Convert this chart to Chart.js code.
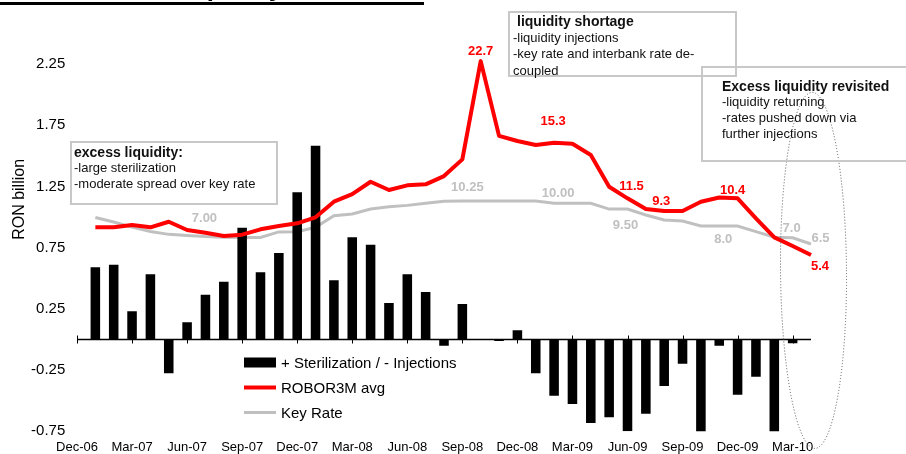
<!DOCTYPE html>
<html>
<head>
<meta charset="utf-8">
<script src="https://cdn.jsdelivr.net/npm/chart.js@4.4.1/dist/chart.umd.min.js"></script>
<style>
  html, body { margin: 0; padding: 0; background: #fff; }
  #wrap { position: relative; width: 906px; height: 454px; overflow: hidden; font-family: "Liberation Sans", Arial, sans-serif; }
  #c { position: absolute; left: 0; top: 0; }
  .title { position: absolute; left: 0; top: -22px; width: 424px; height: 24px; border-bottom: 3px solid #000;
           font: bold 26px "Liberation Sans", Arial, sans-serif; line-height: 24px; white-space: nowrap; color: #000; }
  .title span { position: relative; top: -3px; }
  .box { position: absolute; box-sizing: border-box; border: 2px solid #c8c8c8; font-size: 13px; line-height: 16px; color: #111; }
  .box .h { font-weight: bold; font-size: 14px; }
</style>
</head>
<body>
<div id="wrap">
  <canvas id="c" width="906" height="454"></canvas>
  <div class="title"><span>ROBOR3M vs. liquidity conditions</span></div>
  <div class="box" style="left:70px; top:141px; width:208px; height:64px; padding:1px 0 0 2px;">
    <div class="h">excess liquidity:</div>
    <div>-large sterilization</div>
    <div>-moderate spread over key rate</div>
  </div>
  <div class="box" style="left:508px; top:11px; width:229px; height:66px; padding:0 0 0 3px; line-height:16.5px;">
    <div class="h" style="margin-left:4px;">liquidity shortage</div>
    <div>-liquidity injections</div>
    <div>-key rate and interbank rate de-</div>
    <div>coupled</div>
  </div>
  <div class="box" style="left:701px; top:66px; width:240px; height:96px; padding:10px 0 0 19px;">
    <div class="h">Excess liquidity revisited</div>
    <div>-liquidity returning</div>
    <div>-rates pushed down via</div>
    <div>further injections</div>
  </div>
</div>
<script>
// ---------------- data ----------------
const CATEGORIES = [
  "Dec-06",
  "Jan-07","Feb-07","Mar-07","Apr-07","May-07","Jun-07","Jul-07","Aug-07","Sep-07","Oct-07","Nov-07","Dec-07",
  "Jan-08","Feb-08","Mar-08","Apr-08","May-08","Jun-08","Jul-08","Aug-08","Sep-08","Oct-08","Nov-08","Dec-08",
  "Jan-09","Feb-09","Mar-09","Apr-09","May-09","Jun-09","Jul-09","Aug-09","Sep-09","Oct-09","Nov-09","Dec-09",
  "Jan-10","Feb-10","Mar-10","Apr-10"
];

// + Sterilization / - Injections (RON billion)
const STERILIZATION = [
  null,
  0.59, 0.611, 0.23, 0.533, -0.276, 0.14, 0.366, 0.472, 0.913, 0.549, 0.707, 1.203,
  1.583, 0.484, 0.835, 0.775, 0.298, 0.533, 0.388, -0.051, 0.29, 0, -0.012, 0.075,
  -0.276, -0.459, -0.527, -0.682, -0.636, -0.75, -0.606, -0.38, -0.198, -0.766, -0.051, -0.451,
  -0.304, -0.766, -0.031, null
];

// ROBOR3M monthly average (%)
const ROBOR3M = [
  null,
  7.83, 7.83, 8.04, 7.83, 8.33, 7.59, 7.35, 7.05, 7.17, 7.65, 7.95, 8.19,
  8.72, 10.12, 10.8, 11.9, 11.16, 11.58, 11.67, 12.41, 13.9, 22.68, 16.0, 15.54,
  15.18, 15.38, 15.29, 14.29, 11.46, 10.42, 9.46, 9.29, 9.29, 10.12, 10.5, 10.42,
  8.63, 6.93, 6.16, 5.36
];

// NBR key rate (%)
const KEY_RATE = [
  null,
  8.7, 8.3, 7.85, 7.45, 7.2, 7.1, 7.0, 6.95, 6.93, 6.93, 7.42, 7.44,
  7.83, 8.86, 9.02, 9.46, 9.67, 9.79, 9.97, 10.15, 10.17, 10.17, 10.17, 10.17,
  10.17, 9.97, 9.97, 9.97, 9.46, 9.46, 8.93, 8.48, 8.39, 7.95, 7.95, 7.95,
  7.44, 6.94, 6.9, 6.34
];

const SERIES_NAMES = ["+ Sterilization / - Injections", "ROBOR3M avg", "Key Rate"];
const Y_TICKS = [-0.75, -0.25, 0.25, 0.75, 1.25, 1.75, 2.25];
const Y_TITLE = "RON billion";

// value labels: [data index, text]
const ROBOR_LABELS = [[22, "22.7"], [26, "15.3"], [30, "11.5"], [32, "9.3"], [36, "10.4"], [40, "5.4"]];
const KEY_LABELS = [[7, "7.00"], [21, "10.25"], [26, "10.00"], [30, "9.50"], [35, "8.0"], [39, "7.0"], [40, "6.5"]];

// ---------------- styling / layout ----------------
const FONT = '"Liberation Sans", Arial, sans-serif';
const RED = '#ff0000';
const GRAY = '#c0c0c0';
const LABEL_OFFSETS_RED = [[0, -10], [-1, -21], [4, -12], [-3, -10], [-5, -8], [9, 11]];
const LABEL_OFFSETS_KEY = [[-1, -18], [5, -14], [4, -10], [-2, 16], [4, 13], [-1, -9], [9.5, -6]];

const decorPlugin = {
  id: 'decor',
  afterDatasetsDraw(chart) {
    const ctx = chart.ctx;
    const xs = chart.scales.x, ys = chart.scales.y, y2 = chart.scales.y2;
    const area = chart.chartArea;
    // zero axis line with tick marks
    const y0 = ys.getPixelForValue(0);
    ctx.save();
    ctx.strokeStyle = '#000';
    ctx.lineWidth = 1.5;
    ctx.beginPath();
    ctx.moveTo(area.left, y0);
    ctx.lineTo(area.right, y0);
    ctx.stroke();
    ctx.lineWidth = 1;
    for (let i = 0; i < CATEGORIES.length; i += 3) {
      const x = Math.round(xs.getPixelForValue(i)) + 0.5;
      ctx.beginPath();
      ctx.moveTo(x, y0 - 4);
      ctx.lineTo(x, y0 + 4);
      ctx.stroke();
    }
    ctx.restore();

    // value labels
    ctx.save();
    ctx.font = 'bold 13px ' + FONT;
    ctx.textAlign = 'center';
    ctx.textBaseline = 'middle';
    ctx.fillStyle = RED;
    ROBOR_LABELS.forEach(([i, t], k) => {
      const x = xs.getPixelForValue(i) + LABEL_OFFSETS_RED[k][0];
      const y = y2.getPixelForValue(ROBOR3M[i]) + LABEL_OFFSETS_RED[k][1];
      ctx.fillText(t, x, y);
    });
    ctx.fillStyle = GRAY;
    KEY_LABELS.forEach(([i, t], k) => {
      const x = xs.getPixelForValue(i) + LABEL_OFFSETS_KEY[k][0];
      const y = y2.getPixelForValue(KEY_RATE[i]) + LABEL_OFFSETS_KEY[k][1];
      ctx.fillText(t, x, y);
    });
    ctx.restore();

    // legend
    ctx.save();
    const lx = area.left + 167, ly = y0 + 23, step = 25;
    chart.data.datasets.forEach((ds, k) => {
      const yy = ly + k * step;
      if (ds.type === 'bar') {
        ctx.fillStyle = ds.backgroundColor;
        ctx.fillRect(lx, yy - 5, 32, 10);
      } else {
        ctx.strokeStyle = ds.borderColor;
        ctx.lineWidth = ds.borderWidth;
        ctx.beginPath();
        ctx.moveTo(lx, yy);
        ctx.lineTo(lx + 32, yy);
        ctx.stroke();
      }
      ctx.fillStyle = '#000';
      ctx.font = '15px ' + FONT;
      ctx.textAlign = 'left';
      ctx.textBaseline = 'middle';
      ctx.fillText(ds.label, lx + 37, yy + 1);
    });
    ctx.restore();

    // y-axis title
    ctx.save();
    ctx.translate(20, (area.top + area.bottom) / 2 - 33);
    ctx.rotate(-Math.PI / 2);
    ctx.font = '16px ' + FONT;
    ctx.fillStyle = '#000';
    ctx.textAlign = 'center';
    ctx.textBaseline = 'middle';
    ctx.fillText(Y_TITLE, 0, 0);
    ctx.restore();

    // dotted ellipse highlighting the latest months
    ctx.save();
    ctx.strokeStyle = '#555';
    ctx.lineWidth = 1;
    ctx.setLineDash([1, 2]);
    ctx.beginPath();
    ctx.ellipse(area.right + 2.5, (area.top + area.bottom) / 2 + 38, 33, 178, -0.008, 0, Math.PI * 2);
    ctx.stroke();
    ctx.restore();
  }
};

new Chart(document.getElementById('c').getContext('2d'), {
  type: 'bar',
  data: {
    labels: CATEGORIES,
    datasets: [
      { type: 'bar', label: SERIES_NAMES[0], data: STERILIZATION, backgroundColor: '#000', yAxisID: 'y',
        order: 1, barPercentage: 0.52, categoryPercentage: 1 },
      { type: 'line', label: SERIES_NAMES[1], data: ROBOR3M, borderColor: RED, borderWidth: 4, pointRadius: 0,
        tension: 0, yAxisID: 'y2', order: 0, borderJoinStyle: 'round' },
      { type: 'line', label: SERIES_NAMES[2], data: KEY_RATE, borderColor: GRAY, borderWidth: 3, pointRadius: 0,
        tension: 0, yAxisID: 'y2', order: 2 }
    ]
  },
  options: {
    responsive: false,
    animation: false,
    devicePixelRatio: 1,
    layout: { padding: { top: 33.5, right: 95, bottom: 0, left: 0 } },
    plugins: { legend: { display: false }, tooltip: { enabled: false }, title: { display: false } },
    scales: {
      x: {
        type: 'category',
        offset: false,
        grid: { display: false, drawTicks: false, offset: false },
        border: { display: false },
        ticks: {
          autoSkip: false, maxRotation: 0, minRotation: 0, padding: 8, color: '#000',
          font: { size: 13, family: FONT },
          callback: (v, i) => (i % 3 === 0 ? CATEGORIES[i] : '')
        },
        afterFit: s => { s.height = 22.7; }
      },
      y: {
        position: 'left',
        min: -0.75, max: 2.5,
        grid: { display: false, drawTicks: false },
        border: { display: false },
        ticks: { padding: 11.7, color: '#000', font: { size: 15, family: FONT }, callback: v => Number(v).toFixed(2) },
        afterBuildTicks: s => { s.ticks = Y_TICKS.map(v => ({ value: v })); },
        afterFit: s => { s.width = 77; }
      },
      y2: { display: false, min: -10.4, max: 25.15 }
    }
  },
  plugins: [decorPlugin]
});
</script>
</body>
</html>
